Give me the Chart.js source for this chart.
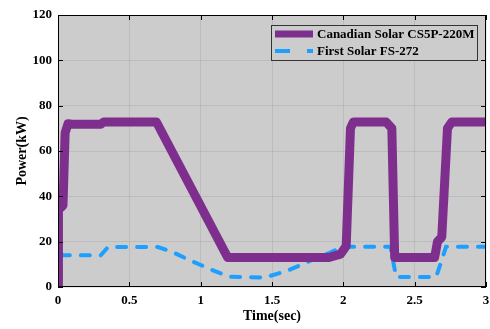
<!DOCTYPE html>
<html>
<head>
<meta charset="utf-8">
<script src="https://cdn.jsdelivr.net/npm/chart.js@4.4.1/dist/chart.umd.min.js"></script>
<style>
    html, body { margin: 0; padding: 0; background: #fff; }
</style>
</head>
<body>
<canvas id="powerChart" width="490" height="329"></canvas>
<script>
// Canadian Solar CS5P-220M output
const timeCanadian = [0, 0.003, 0.02, 0.035, 0.05, 0.07, 0.1, 0.3, 0.32, 0.5, 0.69, 1.19, 1.5, 1.9, 1.98, 2.02, 2.05, 2.07, 2.3, 2.34, 2.36, 2.5, 2.64, 2.66, 2.69, 2.73, 2.76, 3.0];
const powerCanadian = [0, 35, 35, 36, 68, 72, 71.8, 71.8, 72.8, 72.8, 72.8, 13, 13, 13, 14.5, 18, 70, 72.8, 72.8, 70, 13, 13, 13, 20, 22, 70, 72.8, 72.8];

// First Solar FS-272 output
const timeFirst = [0.01, 0.012, 0.03, 0.3, 0.35, 0.7, 0.8, 0.9, 1.0, 1.1, 1.2, 1.45, 1.6, 1.7, 1.8, 1.9, 2.0, 2.33, 2.37, 2.65, 2.68, 2.72, 3.0];
const powerFirst = [0, 16, 14, 14, 17.6, 17.6, 15.5, 12.5, 9.7, 7, 4.5, 4.2, 7, 9.7, 12.5, 15, 17.8, 17.8, 4.4, 4.4, 10, 17.8, 17.8];

const xTicks = [0, 0.5, 1, 1.5, 2, 2.5, 3];
const yTicks = [0, 20, 40, 60, 80, 100, 120];

const seriesLabels = ['Canadian Solar CS5P-220M', 'First Solar FS-272'];

const toPoints = (xs, ys) => xs.map((x, i) => ({ x: x, y: ys[i] }));

const serif = '"Liberation Serif", "Times New Roman", serif';

// gray axes background, box, inward ticks, legend
const matlabLook = {
    id: 'matlabLook',
    beforeDraw(chart) {
        const { ctx, chartArea: a } = chart;
        ctx.save();
        ctx.fillStyle = '#cccccc';
        ctx.fillRect(a.left, a.top, a.right - a.left, a.bottom - a.top);
        ctx.restore();
    },
    afterDraw(chart) {
        const { ctx, chartArea: a, scales } = chart;
        ctx.save();
        ctx.strokeStyle = '#000';
        ctx.lineWidth = 1;
        ctx.strokeRect(a.left + 0.5, a.top + 0.5, a.right - a.left - 1, a.bottom - a.top - 1);
        ctx.beginPath();
        xTicks.forEach(v => {
            const px = Math.round(scales.x.getPixelForValue(v)) + 0.5;
            ctx.moveTo(px, a.bottom); ctx.lineTo(px, a.bottom - 5);
            ctx.moveTo(px, a.top); ctx.lineTo(px, a.top + 5);
        });
        yTicks.forEach(v => {
            const py = Math.round(scales.y.getPixelForValue(v)) + 0.5;
            ctx.moveTo(a.left, py); ctx.lineTo(a.left + 5, py);
            ctx.moveTo(a.right, py); ctx.lineTo(a.right - 5, py);
        });
        ctx.stroke();

        // legend box
        const lx = 271, ly = 25, lw = 206, lh = 35;
        ctx.fillStyle = '#cccccc';
        ctx.fillRect(lx, ly, lw, lh);
        ctx.strokeStyle = '#333';
        ctx.strokeRect(lx + 0.5, ly + 0.5, lw, lh);
        ctx.font = 'bold 13px ' + serif;
        ctx.textBaseline = 'middle';
        chart.data.datasets.forEach((ds, i) => {
            const yy = ly + 9 + i * 17;
            ctx.strokeStyle = ds.borderColor;
            ctx.lineWidth = i === 0 ? 7 : 4;
            ctx.lineCap = 'butt';
            ctx.beginPath();
            if (i === 0) {
                ctx.moveTo(275, yy); ctx.lineTo(313, yy);
            } else {
                ctx.moveTo(275, yy); ctx.lineTo(290, yy);
                ctx.moveTo(307, yy); ctx.lineTo(313, yy);
            }
            ctx.stroke();
            ctx.fillStyle = '#000';
            ctx.fillText(ds.label, 317, yy + 1);
        });
        ctx.restore();
    }
};

new Chart(document.getElementById('powerChart'), {
    type: 'line',
    data: {
        datasets: [{
            label: seriesLabels[0],
            data: toPoints(timeCanadian, powerCanadian),
            borderColor: '#7e2f8e',
            borderWidth: 9,
            borderJoinStyle: 'round',
            pointRadius: 0,
            tension: 0,
            fill: false
        }, {
            label: seriesLabels[1],
            data: toPoints(timeFirst, powerFirst),
            borderColor: '#1e9fff',
            borderWidth: 4,
            borderDash: [9, 11],
            borderCapStyle: 'round',
            pointRadius: 0,
            tension: 0,
            fill: false
        }]
    },
    options: {
        responsive: false,
        animation: false,
        layout: {
            padding: { top: 15, right: 4, left: 0, bottom: 0 }
        },
        plugins: {
            legend: { display: false },
            tooltip: { enabled: false }
        },
        scales: {
            x: {
                type: 'linear',
                min: 0,
                max: 3,
                afterBuildTicks: (scale) => { scale.ticks = xTicks.map(v => ({ value: v })); },
                afterFit: (scale) => {
                    scale.height = 42;
                    scale.paddingLeft = 0;
                    scale.paddingRight = 0;
                },
                ticks: {
                    padding: 6,
                    color: '#000',
                    font: { family: serif, size: 13, weight: 'bold' },
                    callback: (value) => String(value)
                },
                grid: { color: 'rgba(0, 0, 0, 0.08)', drawTicks: false },
                border: { display: false },
                title: {
                    display: true,
                    text: 'Time(sec)',
                    color: '#000',
                    font: { family: serif, size: 14, weight: 'bold' },
                    padding: { top: 0, bottom: 4 }
                }
            },
            y: {
                min: 0,
                max: 120,
                afterBuildTicks: (scale) => { scale.ticks = yTicks.map(v => ({ value: v })); },
                afterFit: (scale) => { scale.width = 58; },
                ticks: {
                    padding: 6,
                    color: '#000',
                    font: { family: serif, size: 13, weight: 'bold' }
                },
                grid: { color: 'rgba(0, 0, 0, 0.08)', drawTicks: false },
                border: { display: false },
                title: {
                    display: true,
                    text: 'Power(kW)',
                    color: '#000',
                    font: { family: serif, size: 14, weight: 'bold' },
                    padding: { top: 14, bottom: 0 }
                }
            }
        }
    },
    plugins: [matlabLook]
});
</script>
</body>
</html>
